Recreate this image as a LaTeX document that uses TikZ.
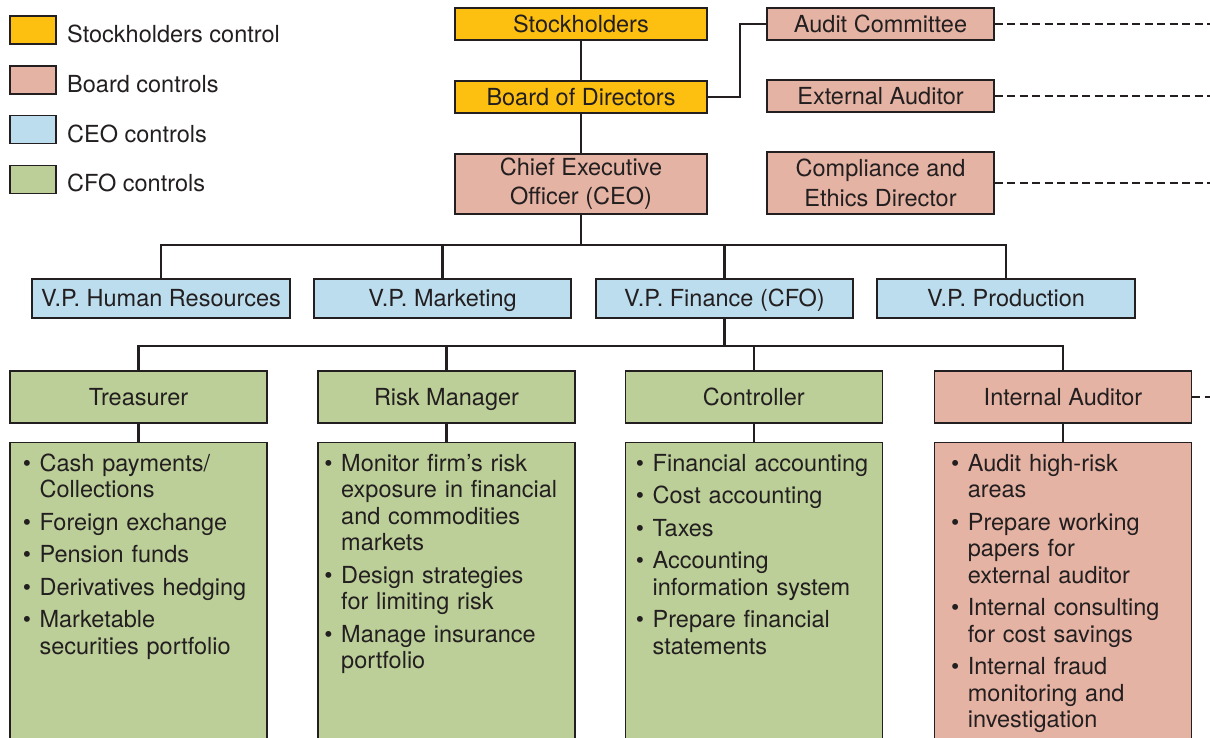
\documentclass[tikz,border=0pt]{standalone}
\usepackage{fontspec}
\setmainfont{TeX Gyre Heros}
\definecolor{yellowc}{HTML}{FDC010}
\definecolor{pinkc}{HTML}{E5B3A3}
\definecolor{bluec}{HTML}{BCDDEE}
\definecolor{greenc}{HTML}{BCCF98}
\definecolor{linec}{HTML}{231F20}
\definecolor{textc}{HTML}{231F20}
\newcommand\itm{\leavevmode\llap{\textbullet\hspace{8.5pt}}}
\tikzset{
  box/.style={draw=linec, line width=1.2pt, inner sep=0pt, text=textc,
    font=\fontsize{23.5}{29.3}\selectfont, align=center},
  oneline/.style={text height=16.9pt, text depth=0pt},
  detailbox/.style={draw=linec, line width=1.2pt, inner sep=0pt, minimum height=330pt, anchor=north},
  listtext/.style={inner sep=0pt, text=textc, text width=250pt, align=left,
    font=\fontsize{23.5}{26.5}\selectfont, anchor=base west},
  conn/.style={draw=linec, line width=2.2pt},
  dline/.style={draw=linec, line width=2pt, dash pattern=on 8pt off 4.5pt},
  swatch/.style={draw=linec, line width=1.2pt, minimum width=46pt, minimum height=28pt, inner sep=0pt},
  legtext/.style={inner sep=0pt, text=textc, font=\fontsize{23.5}{28}\selectfont, anchor=base west}
}
\begin{document}
\begin{tikzpicture}[x=1pt,y=-1pt]
\useasboundingbox (0,0) rectangle (1210,738);
\fill[white] (0,0) rectangle (1210,738);
\clip (0,0) rectangle (1210,738);

% legend
\node[swatch, fill=yellowc] (lg1) at (33,30) {};
\node[legtext] (lg1t) at (67,42.7) {Stockholders control};
\node[swatch, fill=pinkc] (lg2) at (33,80) {};
\node[legtext] (lg2t) at (67,92.5) {Board controls};
\node[swatch, fill=bluec] (lg3) at (33,129.7) {};
\node[legtext] (lg3t) at (67,142.2) {CEO controls};
\node[swatch, fill=greenc] (lg4) at (33,179.3) {};
\node[legtext] (lg4t) at (67,191.8) {CFO controls};

% top chain
\node[box, oneline, fill=yellowc, minimum width=252pt, minimum height=32pt] (stock) at (581,24) {Stockholders};
\node[box, oneline, fill=yellowc, minimum width=252pt, minimum height=32pt] (board) at (581,97) {Board of Directors};
\node[box, fill=pinkc, minimum width=252pt, minimum height=60pt] (ceo) at (581,184) {Chief Executive\\Officer (CEO)};

% board committees
\node[box, oneline, fill=pinkc, minimum width=227pt, minimum height=32pt] (audit) at (880.5,24) {Audit Committee};
\node[box, oneline, fill=pinkc, minimum width=227pt, minimum height=32pt] (ext) at (880.5,96) {External Auditor};
\node[box, fill=pinkc, minimum width=227pt, minimum height=62pt] (comp) at (880.5,183) {Compliance and\\Ethics Director};

% VPs
\node[box, oneline, fill=bluec, minimum width=258pt, minimum height=39pt] (hr) at (161,298.5) {V.P. Human Resources};
\node[box, oneline, fill=bluec, minimum width=257pt, minimum height=39pt] (mkt) at (442.5,298.5) {V.P. Marketing};
\node[box, oneline, fill=bluec, minimum width=257pt, minimum height=39pt] (fin) at (724.5,298.5) {V.P. Finance (CFO)};
\node[box, oneline, fill=bluec, minimum width=258pt, minimum height=39pt] (prod) at (1006,298.5) {V.P. Production};

% CFO level
\node[box, oneline, fill=greenc, minimum width=257pt, minimum height=52pt] (treas) at (138.5,397) {Treasurer};
\node[box, oneline, fill=greenc, minimum width=257pt, minimum height=52pt] (risk) at (446.5,397) {Risk Manager};
\node[box, oneline, fill=greenc, minimum width=257pt, minimum height=52pt] (ctrl) at (753.75,397) {Controller};
\node[box, oneline, fill=pinkc, minimum width=257pt, minimum height=52pt] (int) at (1063,397) {Internal Auditor};

% detail boxes
\node[detailbox, fill=greenc, minimum width=257pt] (treasd) at (138.5,442) {};
\node[detailbox, fill=greenc, minimum width=257pt] (riskd) at (446.5,442) {};
\node[detailbox, fill=greenc, minimum width=257pt] (ctrld) at (753.75,442) {};
\node[detailbox, fill=pinkc, minimum width=257pt] (intd) at (1063,442) {};

\node[listtext] (treast) at (39.4,471) {\itm Cash payments/\\Collections\\[6pt]\itm Foreign exchange\\[6pt]\itm Pension funds\\[6pt]\itm Derivatives hedging\\[6pt]\itm Marketable\\securities portfolio};
\node[listtext] (riskt) at (341,471) {\itm Monitor firm’s risk\\exposure in financial\\and commodities\\markets\\[6pt]\itm Design strategies\\for limiting risk\\[6pt]\itm Manage insurance\\portfolio};
\node[listtext] (ctrlt) at (652.5,471) {\itm Financial accounting\\[6pt]\itm Cost accounting\\[6pt]\itm Taxes\\[6pt]\itm Accounting\\information system\\[6pt]\itm Prepare financial\\statements};
\node[listtext] (intt) at (967.7,471) {\itm Audit high-risk\\areas\\[6pt]\itm Prepare working\\papers for\\external auditor\\[6pt]\itm Internal consulting\\for cost savings\\[6pt]\itm Internal fraud\\monitoring and\\investigation};

% connectors
\draw[conn] (stock) -- (board);
\draw[conn] (board) -- (ceo);
\draw[conn] (board.east) -- ++(32,0) |- (audit.west);

\coordinate (bus1) at (581,245);
\draw[conn] (ceo.south) -- (bus1);
\draw[conn] (hr.north) -- (hr.north |- bus1) -- (prod.north |- bus1) -- (prod.north);
\draw[conn] (mkt.north) -- (mkt.north |- bus1);
\draw[conn] (fin.north) -- (fin.north |- bus1);

\coordinate (bus2) at (724.5,346);
\draw[conn] (fin.south) -- (bus2);
\draw[conn] (treas.north) -- (treas.north |- bus2) -- (int.north |- bus2) -- (int.north);
\draw[conn] (risk.north) -- (risk.north |- bus2);
\draw[conn] (ctrl.north) -- (ctrl.north |- bus2);

\draw[conn] (treas.south) -- (treasd.north);
\draw[conn] (risk.south) -- (riskd.north);
\draw[conn] (ctrl.south) -- (ctrld.north);
\draw[conn] (int.south) -- (intd.north);

% dashed reporting lines
\coordinate (e1) at (1212,24);
\coordinate (e2) at (1212,96);
\coordinate (e3) at (1212,183);
\coordinate (e4) at (1212,397);
\draw[dline] (audit.east) -- (e1);
\draw[dline] (ext.east) -- (e2);
\draw[dline] (comp.east) -- (e3);
\draw[dline] (int.east) -- (e4);
\end{tikzpicture}
\end{document}
